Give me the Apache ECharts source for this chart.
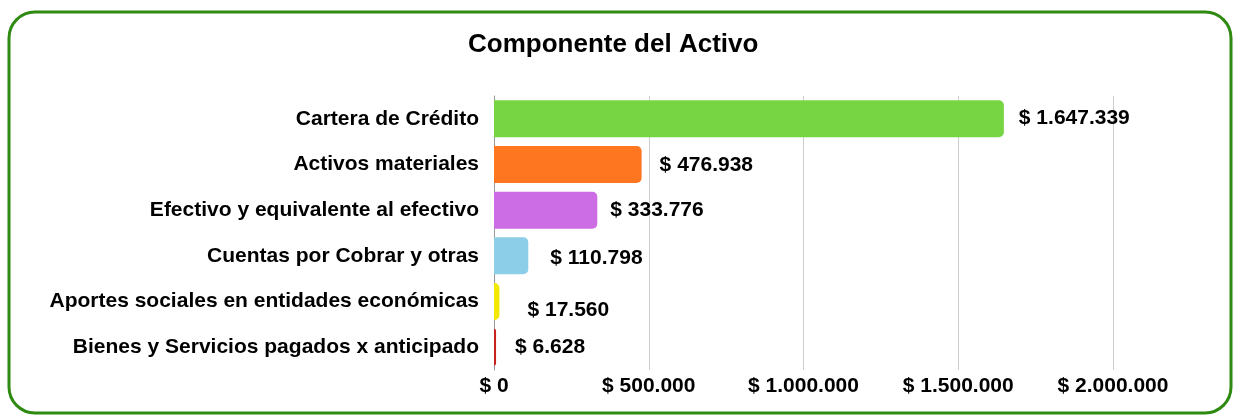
<!DOCTYPE html>
<html>
<head>
<meta charset="utf-8">
<script src="https://cdn.jsdelivr.net/npm/echarts@6/dist/echarts.min.js"></script>
<style>
  html, body { margin: 0; padding: 0; background: #fff; }
  #main { width: 1240px; height: 416px; }
</style>
</head>
<body>
<div id="main"></div>
<script>
var categories = [
    'Cartera de Crédito',
    'Activos materiales',
    'Efectivo y equivalente al efectivo',
    'Cuentas por Cobrar y otras',
    'Aportes sociales en entidades económicas',
    'Bienes y Servicios pagados x anticipado'
];
var values = [1647339, 476938, 333776, 110798, 17560, 6628];
var barColors = ['#77d443', '#ff7621', '#cd6de6', '#8ccde8', '#f2e800', '#c9211e'];
// label nudges (px) to match the staggered labels of the original
var labelShift = [[10, -1], [13, 1], [8, 0], [17, 2], [23, 9], [14, 0]];

function money(v) {
    return '$ ' + String(Math.round(v)).replace(/\B(?=(\d{3})+(?!\d))/g, '.');
}

var myChart = echarts.init(document.getElementById('main'));
var option = {
    animation: false,
    textStyle: { fontFamily: 'Liberation Sans' },
    title: {
        text: 'Componente del Activo',
        left: 463,
        top: 27,
        textStyle: { fontSize: 26, fontWeight: 'bold', color: '#000', fontFamily: 'Liberation Sans' }
    },
    graphic: [{
        type: 'rect',
        shape: { x: 9, y: 12, width: 1222, height: 401, r: 26 },
        style: { fill: 'none', stroke: '#2f8a12', lineWidth: 3 },
        silent: true
    }],
    grid: { left: 494, right: 127, top: 96, bottom: 46 },
    xAxis: {
        type: 'value',
        min: 0,
        max: 2000000,
        interval: 500000,
        axisLabel: {
            formatter: money,
            fontSize: 21,
            fontWeight: 'bold',
            color: '#000',
            margin: 6
        },
        splitLine: { lineStyle: { color: '#cccccc' } },
        axisLine: { show: false },
        axisTick: { show: false }
    },
    yAxis: {
        type: 'category',
        inverse: true,
        data: categories,
        axisLine: { show: true, lineStyle: { color: '#999999' } },
        axisTick: { show: false },
        axisLabel: { fontSize: 21, fontWeight: 'bold', color: '#000', margin: 15 }
    },
    series: [{
        type: 'bar',
        barWidth: 37,
        data: values.map(function (v, i) {
            return {
                value: v,
                itemStyle: { color: barColors[i], borderRadius: [0, 5, 5, 0] },
                label: { offset: labelShift[i] }
            };
        }),
        label: {
            show: true,
            position: 'right',
            distance: 5,
            formatter: function (p) { return money(p.value); },
            fontSize: 21,
            fontWeight: 'bold',
            color: '#000'
        }
    }]
};
myChart.setOption(option);
</script>
</body>
</html>
